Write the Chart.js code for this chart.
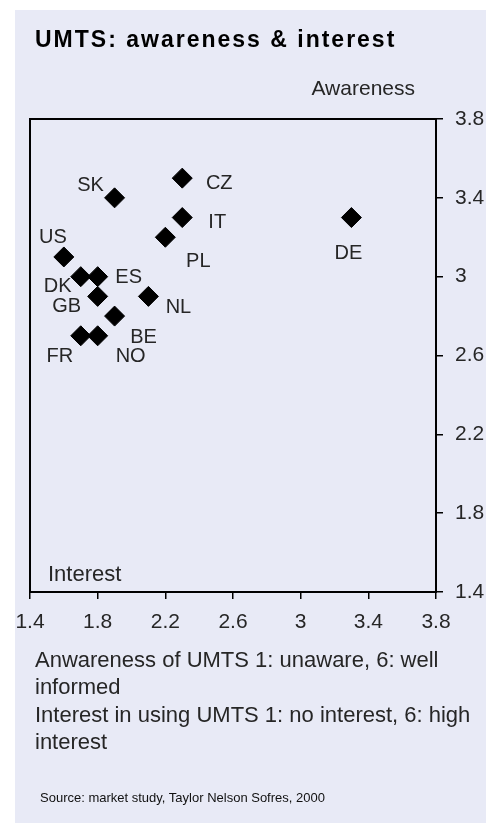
<!DOCTYPE html>
<html>
<head>
<meta charset="utf-8">
<script src="https://cdn.jsdelivr.net/npm/chart.js@4.4.0/dist/chart.umd.min.js"></script>
<style>
  html, body { margin: 0; padding: 0; background: #fff; }
  body { width: 486px; height: 823px; position: relative; overflow: hidden;
         font-family: "Liberation Sans", Arial, sans-serif; color: #262626; }
  #panel { position: absolute; left: 15px; top: 10px; right: 0; bottom: 0; background: #e8eaf6; }
  #wrap { position: absolute; left: 0; top: 0; width: 486px; height: 823px; }
  .txt { position: absolute; white-space: nowrap; }
  #title { left: 35px; top: 27.5px; font-size: 23px; line-height: 23px; font-weight: bold;
           letter-spacing: 2px; color: #000; }
  #awareness { right: 71px; top: 77px; font-size: 21px; line-height: 21px; }
  #interest { left: 48px; top: 563px; font-size: 22px; line-height: 22px; }
  #notes { left: 35px; top: 646px; font-size: 22px; line-height: 27.3px; }
  #source { left: 40px; top: 791px; font-size: 13px; line-height: 13px; color: #111; }
</style>
</head>
<body>
<div id="panel"></div>
<div id="wrap"><canvas id="umts_chart"></canvas></div>
<div class="txt" id="title">UMTS: awareness &amp; interest</div>
<div class="txt" id="awareness">Awareness</div>
<div class="txt" id="interest">Interest</div>
<div class="txt" id="notes">Anwareness of UMTS 1: unaware, 6: well<br>informed<br>Interest in using UMTS 1: no interest, 6: high<br>interest</div>
<div class="txt" id="source">Source: market study, Taylor Nelson Sofres, 2000</div>
<script>
// values
var countries = ['SK', 'CZ', 'IT', 'PL', 'DE', 'US', 'DK', 'ES', 'GB', 'NL', 'BE', 'FR', 'NO'];
var interest  = [1.9, 2.3, 2.3, 2.2, 3.3, 1.6, 1.7, 1.8, 1.8, 2.1, 1.9, 1.7, 1.8];
var awareness = [3.4, 3.5, 3.3, 3.2, 3.3, 3.1, 3.0, 3.0, 2.9, 2.9, 2.8, 2.7, 2.7];
var axisMin = 1.4;
var axisMax = 3.8;
var axisStep = 0.4;

// where each country label sits relative to its marker (px)
var labelOffsets = {
    SK: [-24, -12], CZ: [37, 5], IT: [35, 5], PL: [33, 24], DE: [-3, 36],
    US: [-11, -19], DK: [-23, 10], ES: [31, 1], GB: [-31, 10], NL: [30, 11],
    BE: [29, 21], FR: [-21, 21], NO: [33, 21]
};

var textColor = '#262626';
Chart.defaults.font.family = '"Liberation Sans", Arial, sans-serif';

var framePlugin = {
    id: 'frame',
    beforeDatasetsDraw: function(chart) {
        var ctx = chart.ctx, a = chart.chartArea;
        ctx.save();
        ctx.strokeStyle = '#000';
        ctx.lineWidth = 2;
        ctx.strokeRect(a.left, a.top, a.right - a.left, a.bottom - a.top);
        ctx.restore();
    }
};

var labelPlugin = {
    id: 'pointLabels',
    afterDatasetsDraw: function(chart) {
        var ctx = chart.ctx;
        var meta = chart.getDatasetMeta(0);
        ctx.save();
        ctx.font = '20px "Liberation Sans", Arial, sans-serif';
        ctx.fillStyle = textColor;
        ctx.textAlign = 'center';
        ctx.textBaseline = 'middle';
        meta.data.forEach(function(pt, i) {
            var off = labelOffsets[countries[i]];
            ctx.fillText(countries[i], pt.x + off[0], pt.y + off[1]);
        });
        ctx.restore();
    }
};

function fmt(v) { return String(+Number(v).toFixed(1)); }

var ctx = document.getElementById('umts_chart');
var chart = new Chart(ctx, {
    type: 'scatter',
    data: {
        datasets: [{
            label: 'UMTS',
            data: interest.map(function(x, i) { return {x: x, y: awareness[i]}; }),
            pointStyle: 'rectRot',
            pointRadius: 10,
            pointHoverRadius: 10,
            backgroundColor: '#000',
            borderColor: '#000',
            borderWidth: 1
        }]
    },
    options: {
        responsive: true,
        maintainAspectRatio: false,
        devicePixelRatio: 1,
        animation: false,
        layout: { padding: { left: 30, top: 119, right: 0, bottom: 181 } },
        plugins: { legend: { display: false }, tooltip: { enabled: false } },
        scales: {
            x: {
                type: 'linear',
                position: 'bottom',
                min: axisMin,
                max: axisMax,
                ticks: { stepSize: axisStep, font: { size: 21 }, color: textColor, padding: 11, callback: fmt },
                grid: { drawOnChartArea: false, drawTicks: true, tickLength: 7, color: '#000', lineWidth: 1.5 },
                border: { color: '#000', width: 2 },
                afterFit: function(scale) { scale.height = 50; }
            },
            y: {
                type: 'linear',
                position: 'right',
                min: axisMin,
                max: axisMax,
                ticks: { stepSize: axisStep, font: { size: 21 }, color: textColor, padding: 12, callback: fmt },
                grid: { drawOnChartArea: false, drawTicks: true, tickLength: 7, color: '#000', lineWidth: 1.5 },
                border: { color: '#000', width: 2 },
                afterFit: function(scale) { scale.width = 50; }
            }
        }
    },
    plugins: [framePlugin, labelPlugin]
});
</script>
</body>
</html>
